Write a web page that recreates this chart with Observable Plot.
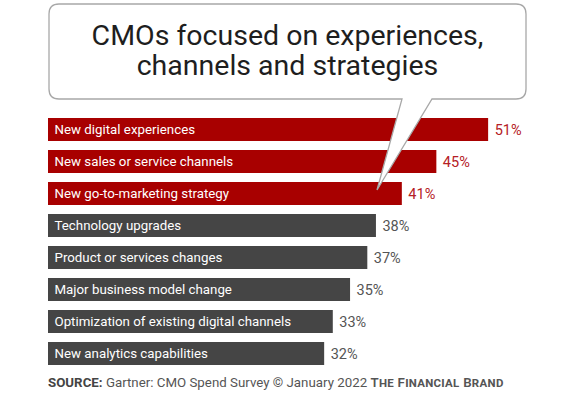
<!DOCTYPE html>
<html>
<head>
<meta charset="utf-8">
<script src="https://cdn.jsdelivr.net/npm/d3@7"></script>
<script src="https://cdn.jsdelivr.net/npm/@observablehq/plot@0.6"></script>
<style>
  html, body { margin: 0; padding: 0; background: #fff; }
  #wrap { position: relative; width: 580px; height: 397px; overflow: hidden; font-family: Roboto, "Open Sans", sans-serif; }
  #chart { position: absolute; left: 0; top: 0; }
  #bubble { position: absolute; left: 0; top: 0; pointer-events: none; }
  #source { position: absolute; left: 48px; top: 375px; font-size: 13.3px; color: #555; white-space: nowrap; }
  #source b { color: #444; font-weight: 700; }
  #source .brand { font-variant: small-caps; font-weight: 600; color: #555; letter-spacing: 0.3px; }
</style>
</head>
<body>
<div id="wrap">
  <div id="chart"></div>
  <svg id="bubble" width="580" height="397"></svg>
  <div id="source"><b>SOURCE:</b> Gartner: CMO Spend Survey © January 2022 <span class="brand">The Financial Brand</span></div>
</div>
<script>
const categories = [
  "New digital experiences",
  "New sales or service channels",
  "New go-to-marketing strategy",
  "Technology upgrades",
  "Product or services changes",
  "Major business model change",
  "Optimization of existing digital channels",
  "New analytics capabilities"
];
const values = [51, 45, 41, 38, 37, 35, 33, 32];
const groups = ["highlight", "highlight", "highlight", "other", "other", "other", "other", "other"];
const titleLines = ["CMOs focused on experiences,", "channels and strategies"];

const data = categories.map((c, i) => ({category: c, value: values[i], group: groups[i]}));
const barColor = {highlight: "#a80000", other: "#454545"};
const valueColor = {highlight: "#b52025", other: "#555555"};

const chart = Plot.plot({
  width: 580,
  height: 397,
  margin: 0,
  x: {domain: [0, 60], range: [48, 48 + 60 * 8.63], axis: null},
  y: {domain: categories, range: [116, 368], paddingInner: 0.28, paddingOuter: 0, axis: null},
  marks: [
    Plot.barX(data, {y: "category", x: "value", fill: d => barColor[d.group]}),
    Plot.text(data, {y: "category", x: 0, text: "category", textAnchor: "start", dx: 6, fill: "white",
      fontSize: 13.3, fontFamily: "Roboto, sans-serif", style: "letter-spacing:0.25px"}),
    Plot.text(data, {y: "category", x: "value", text: d => d.value + "%", textAnchor: "start", dx: 6,
      fill: d => valueColor[d.group], fontSize: 14.5, fontFamily: "Roboto, sans-serif"})
  ]
});
document.getElementById("chart").appendChild(chart);

// speech bubble decoration with title
const svg = d3.select("#bubble");
const L = 49, R = 526, T = 4, B = 99, r = 10;
const tail = [[432, B], [377, 190], [402, B]];
const path = `M${L + r},${T} H${R - r} Q${R},${T} ${R},${T + r} V${B - r} Q${R},${B} ${R - r},${B} H${tail[0][0]} L${tail[1][0]},${tail[1][1]} L${tail[2][0]},${tail[2][1]} H${L + r} Q${L},${B} ${L},${B - r} V${T + r} Q${L},${T} ${L + r},${T} Z`;
svg.append("path").attr("d", path).attr("fill", "white").attr("stroke", "#a8a8a8").attr("stroke-width", 1.3);
svg.append("text")
  .attr("x", (L + R) / 2).attr("text-anchor", "middle")
  .attr("font-family", "Roboto, sans-serif").attr("font-size", 28.5).attr("fill", "#1e1e1e")
  .selectAll("tspan").data(titleLines).join("tspan")
  .attr("x", (L + R) / 2).attr("y", (d, i) => 45 + i * 30).text(d => d);
</script>
</body>
</html>
